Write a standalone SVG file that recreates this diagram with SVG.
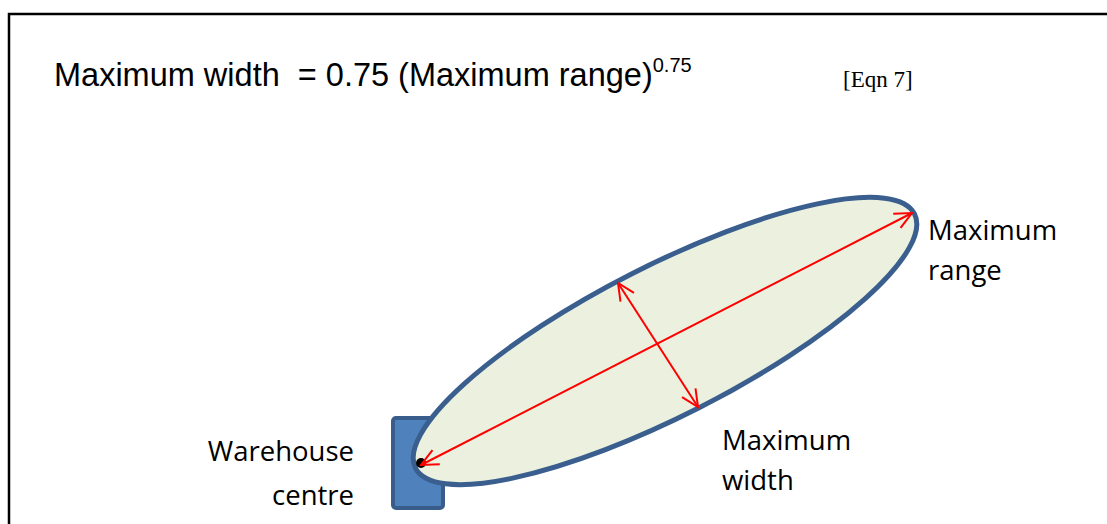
<svg xmlns="http://www.w3.org/2000/svg" width="1107" height="524" viewBox="0 0 1107 524">
<style>
.lbl{font-family:"Open Sans","Noto Sans",sans-serif;font-size:27.5px;fill:#000}
.red{stroke:#ff0000;stroke-width:2;fill:none}
</style>
<defs>
<marker id="ah" viewBox="0 0 22 22" refX="20" refY="11" markerWidth="22" markerHeight="22" markerUnits="userSpaceOnUse" orient="auto-start-reverse">
<path d="M3,3 L20,11 L3,19" fill="none" stroke="#ff0000" stroke-width="2"/>
</marker>
</defs>
<rect width="1107" height="524" fill="#fff"/>
<path d="M9,524 V14 H1107" fill="none" stroke="#000" stroke-width="2.5"/>
<text x="54" y="86" font-family="Liberation Sans, Arial, sans-serif" font-size="32.5" xml:space="preserve">Maximum width  = 0.75 (Maximum range)<tspan font-size="20" dy="-14">0.75</tspan></text>
<text x="843" y="87" font-family="Liberation Serif, serif" font-size="23">[Eqn 7]</text>
<g id="warehouse"><rect x="393" y="418" width="50" height="90" rx="3" fill="#4F81BD" stroke="#385D8A" stroke-width="4"/></g>
<g id="area"><ellipse cx="665" cy="341" rx="280" ry="75" transform="rotate(-27 665 341)" fill="#EBF1DE" stroke="#3A5F8F" stroke-width="5"/></g>
<g id="centre"><circle cx="421" cy="463" r="5" fill="#000"/></g>
<g id="connectors">
<line class="red" x1="421" y1="465" x2="912" y2="213" marker-start="url(#ah)" marker-end="url(#ah)"/>
<line class="red" x1="618" y1="283" x2="698" y2="407" marker-start="url(#ah)" marker-end="url(#ah)"/>
</g>
<g id="labels">
<text class="lbl" x="928" y="240">Maximum</text>
<text class="lbl" x="928" y="280">range</text>
<text class="lbl" x="722" y="450">Maximum</text>
<text class="lbl" x="722" y="490">width</text>
<text class="lbl" x="354" y="461" text-anchor="end">Warehouse</text>
<text class="lbl" x="354" y="505" text-anchor="end">centre</text>
</g>
</svg>
